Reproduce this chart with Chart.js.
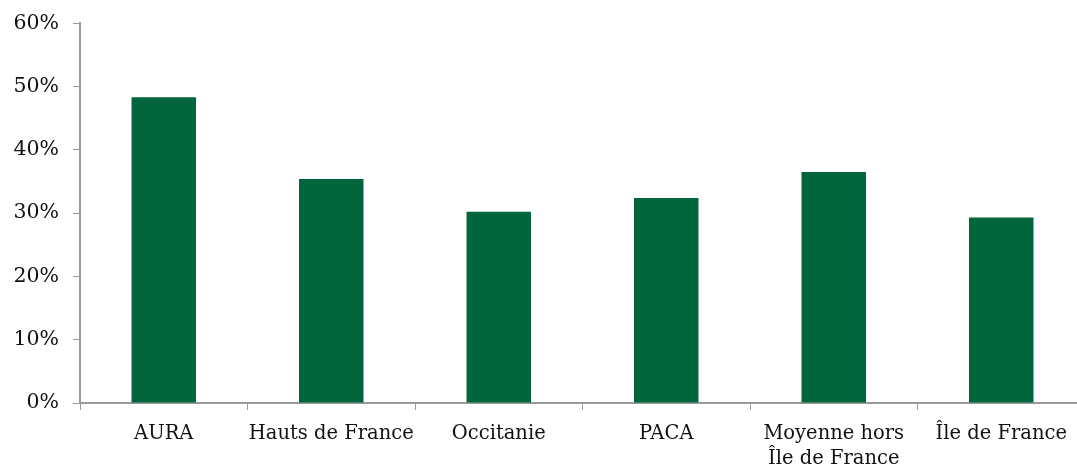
<!DOCTYPE html>
<html>
<head>
<meta charset="utf-8">
<script src="https://cdn.jsdelivr.net/npm/chart.js@4/dist/chart.umd.min.js"></script>
<style>
  html, body { margin: 0; padding: 0; background: #fff; overflow: hidden; }
  #wrap { width: 1085px; height: 468px; position: relative; }
</style>
</head>
<body>
<div id="wrap"><canvas id="barChart"></canvas></div>
<script>
// categories and values (percent)
const regions = ['AURA', 'Hauts de France', 'Occitanie', 'PACA', ['Moyenne hors', 'Île de France'], 'Île de France'];
const shares = [48.3, 35.4, 30.2, 32.4, 36.5, 29.3];
const yTicks = [0, 10, 20, 30, 40, 50, 60];

const axisGrey = '#9a9a9a';
const xFont = { family: '"DejaVu Serif", "Liberation Serif", serif', size: 19.5, lineHeight: 1.3 };
const yFont = { family: '"DejaVu Serif", "Liberation Serif", serif', size: 20.5, lineHeight: 0.9 };

const ctx = document.getElementById('barChart').getContext('2d');
new Chart(ctx, {
  type: 'bar',
  data: {
    labels: regions,
    datasets: [{ data: shares, backgroundColor: '#02653b', barPercentage: 0.385, categoryPercentage: 1 }]
  },
  options: {
    responsive: true,
    maintainAspectRatio: false,
    animation: false,
    layout: { padding: { top: 22, right: 0, left: 0, bottom: 0 } },
    plugins: { legend: { display: false }, tooltip: { enabled: false } },
    scales: {
      x: {
        offset: true,
        grid: { offset: true, drawOnChartArea: false, drawTicks: true, tickLength: 7, color: axisGrey },
        border: { color: axisGrey, width: 2 },
        ticks: { color: '#111', font: xFont, padding: 11, maxRotation: 0, autoSkip: false },
        afterFit: s => { s.height = 65; }
      },
      y: {
        min: 0, max: 60,
        afterBuildTicks: s => { s.ticks = yTicks.map(v => ({ value: v })); },
        grid: { drawOnChartArea: false, drawTicks: true, tickLength: 7, color: axisGrey },
        border: { color: axisGrey, width: 2 },
        ticks: { color: '#111', font: yFont, padding: 14, callback: v => v + '%' },
        afterFit: s => { s.width = 80; }
      }
    }
  }
});
</script>
</body>
</html>
